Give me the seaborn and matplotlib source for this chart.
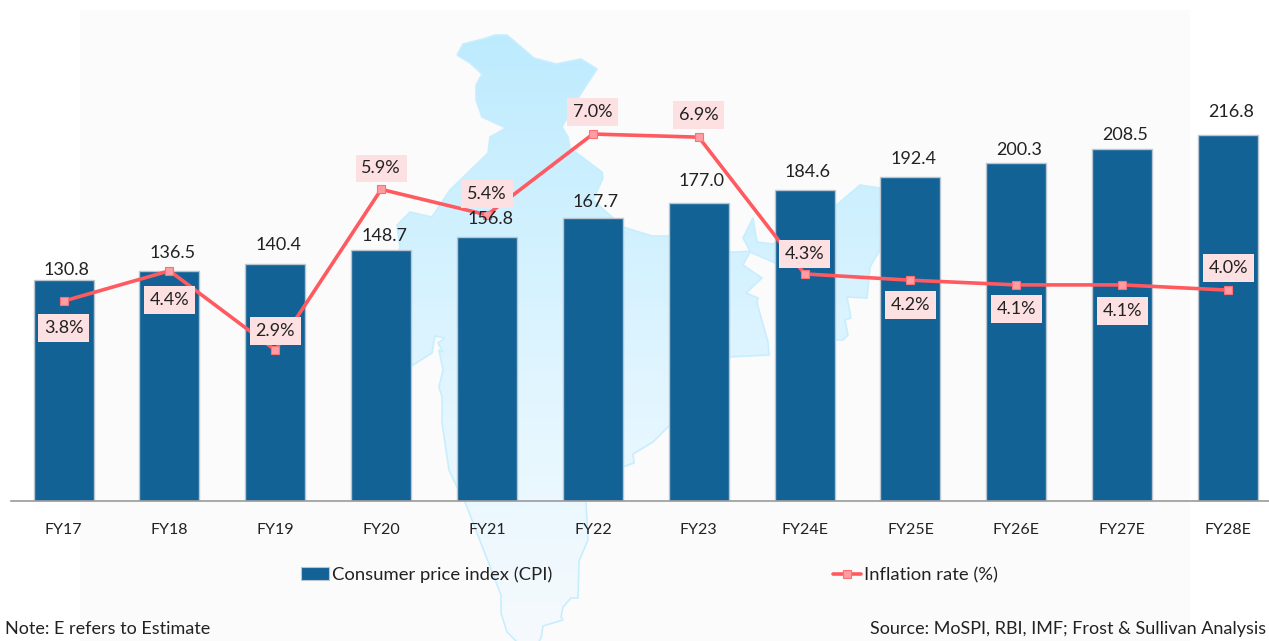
import numpy as np
import pandas as pd
import matplotlib
matplotlib.use("Agg")
import matplotlib.pyplot as plt
from matplotlib.patches import Polygon, Rectangle, Patch
from matplotlib.lines import Line2D
from matplotlib.colors import LinearSegmentedColormap
import seaborn as sns

# ---- data ----
years = ["FY17", "FY18", "FY19", "FY20", "FY21", "FY22", "FY23", "FY24E", "FY25E", "FY26E", "FY27E", "FY28E"]
cpi = [130.8, 136.5, 140.4, 148.7, 156.8, 167.7, 177.0, 184.6, 192.4, 200.3, 208.5, 216.8]
inflation = [3.80, 4.38, 2.86, 5.94, 5.45, 7.00, 6.94, 4.32, 4.20, 4.11, 4.11, 4.01]
inflation_labels = ["3.8%", "4.4%", "2.9%", "5.9%", "5.4%", "7.0%", "6.9%", "4.3%", "4.2%", "4.1%", "4.1%", "4.0%"]

# ---- label placement (style, in pixels) ----
cpi_label_dy = [10, 18, 19, 14, 18, 16, 22, 18, 18, 13, 14, 23]
rate_label_dy = [-27, -29, 19, 21, 21, 22, 22, 20, -25, -24, -26, 22]

W, H = 1269, 641
BLUE = "#126296"
RED = "#ff5a5f"
PINK = "#fde0e2"
TXT = "#222222"
FONT = "Lato"
px = 72 / 100

sns.set_theme(style="white", rc={"font.family": FONT, "text.color": TXT})
plt.rcParams["font.family"] = [FONT, "DejaVu Sans"]

fig = plt.figure(figsize=(W / 100, H / 100), dpi=100, facecolor="white")

# decorative backdrop (panel + map silhouette), in pixel coordinates
bg = fig.add_axes([0, 0, 1, 1], zorder=0)
bg.axis("off")
bg.add_patch(Rectangle((80, 10), 1110, 631, fc="#fbfbfb", ec="none", zorder=1))
map_outline = [
    (457, 55), (463, 44), (483, 39), (495, 35), (507, 35), (534, 58), (556, 64), (581, 59), (597, 69),
    (580, 95), (562, 127), (568, 137), (570, 148), (602, 172), (603, 178), (593, 200), (623, 227),
    (652, 236), (668, 236), (728, 252), (740, 252), (750, 251), (743, 238), (753, 218), (757, 242),
    (773, 244), (833, 208), (860, 185), (880, 188), (900, 200), (900, 235), (880, 250), (870, 267), (867, 298),
    (847, 297), (851, 318), (845, 320), (848, 335), (843, 340), (834, 340), (820, 290), (790, 270),
    (773, 262), (750, 252), (743, 265), (762, 278), (746, 293), (758, 298), (757, 303), (768, 342),
    (769, 355), (728, 357), (700, 395), (668, 427), (653, 442), (633, 454), (634, 463), (623, 467),
    (600, 480), (586, 502), (588, 540), (579, 561), (578, 598), (571, 598), (563, 607), (561, 617),
    (563, 620), (543, 626), (541, 638), (538, 643), (518, 643), (507, 632), (501, 613), (501, 595),
    (465, 502), (457, 487), (449, 470), (442, 423), (442, 397), (439, 387), (443, 370), (439, 350),
    (443, 352), (438, 343), (445, 338), (435, 336), (432, 353), (413, 365), (385, 352), (368, 330),
    (380, 290), (400, 248), (397, 225), (410, 212), (432, 217), (450, 190), (488, 153), (490, 137),
    (506, 128), (482, 117), (476, 100), (476, 85), (482, 74), (470, 63),
]
grad = np.linspace(0, 1, 256)[:, None]
cmap = LinearSegmentedColormap.from_list("m", ["#bdebfe", "#d2f1ff", "#e6f7ff", "#f6fafd"])
im = bg.imshow(grad, extent=(380, 910, 641, 35), cmap=cmap, aspect="auto", zorder=2)
bg.set_xlim(0, W)
bg.set_ylim(H, 0)
poly = Polygon(map_outline, closed=True, fc="none", ec="#c8eefe", lw=1.2, zorder=3)
bg.add_patch(poly)
im.set_clip_path(poly)

# main axes
ax = fig.add_axes([10.7 / W, (H - 501) / H, (W - 10.7) / W, 501 / H], zorder=1)
ax.patch.set_alpha(0)
df = pd.DataFrame({"year": years, "cpi": cpi, "inflation": inflation})
sns.barplot(data=df, x="year", y="cpi", color=BLUE, saturation=1, width=0.567,
            edgecolor="#b9c6d1", linewidth=1, ax=ax)
ax.set_xlim(-0.5, 11.387)
ax.set_ylim(0, 501 / 1.686)
ax.set_xlabel("")
ax.set_ylabel("")
ax.set_yticks([])
ax.tick_params(axis="x", length=0, pad=16, labelsize=11.5, labelcolor=TXT)
for s in ["top", "left", "right"]:
    ax.spines[s].set_visible(False)
ax.spines["bottom"].set_color("#9a9a9a")
ax.spines["bottom"].set_linewidth(1.2)

ax2 = ax.twinx()
ax2.patch.set_alpha(0)
sns.lineplot(data=df, x="year", y="inflation", color=RED, linewidth=2.6, marker="s", markersize=5.5,
             markerfacecolor="#ff9da3", markeredgecolor="#ff6f74", markeredgewidth=0.8, ax=ax2, sort=False)
ax2.set_ylim(-0.03, -0.03 + 501 / 52.2)
ax2.set_ylabel("")
ax2.set_yticks([])
for s in ax2.spines.values():
    s.set_visible(False)

for i, v in enumerate(cpi):
    ax2.annotate(f"{v:.1f}", xy=(i, v), xycoords=ax.transData, xytext=(3 * px, cpi_label_dy[i] * px),
                 textcoords="offset points", ha="center", va="center", fontsize=13, color=TXT)
for i, v in enumerate(inflation):
    ax2.annotate(inflation_labels[i], xy=(i, v), xytext=(0, rate_label_dy[i] * px), textcoords="offset points",
                 ha="center", va="center", fontsize=13, color=TXT, zorder=5,
                 bbox=dict(boxstyle="square,pad=0.32", fc=PINK, ec="none"))

handles = [Patch(fc=BLUE, ec="#b9c6d1", lw=0.8, label="Consumer price index (CPI)"),
           Line2D([0], [0], color=RED, lw=2.6, marker="s", ms=5.5, mfc="#ff9da3", mec="#ff6f74", mew=0.8,
                  label="Inflation rate (%)")]
leg = fig.legend(handles=handles, ncol=2, frameon=False, fontsize=13.3, loc="center left",
                 bbox_to_anchor=(301 / W, 1 - 575 / H), borderaxespad=0, borderpad=0,
                 handlelength=1.5, handleheight=0.7, handletextpad=0.17, columnspacing=15.2, labelcolor=TXT)

fig.text(5 / W, 1 - 629 / H, "Note: E refers to Estimate", fontsize=13, va="center", color=TXT)
fig.text(870 / W, 1 - 629 / H, "Source: MoSPI, RBI, IMF; Frost & Sullivan Analysis", fontsize=13, va="center", color=TXT)

fig.savefig("out.png", dpi=100)
